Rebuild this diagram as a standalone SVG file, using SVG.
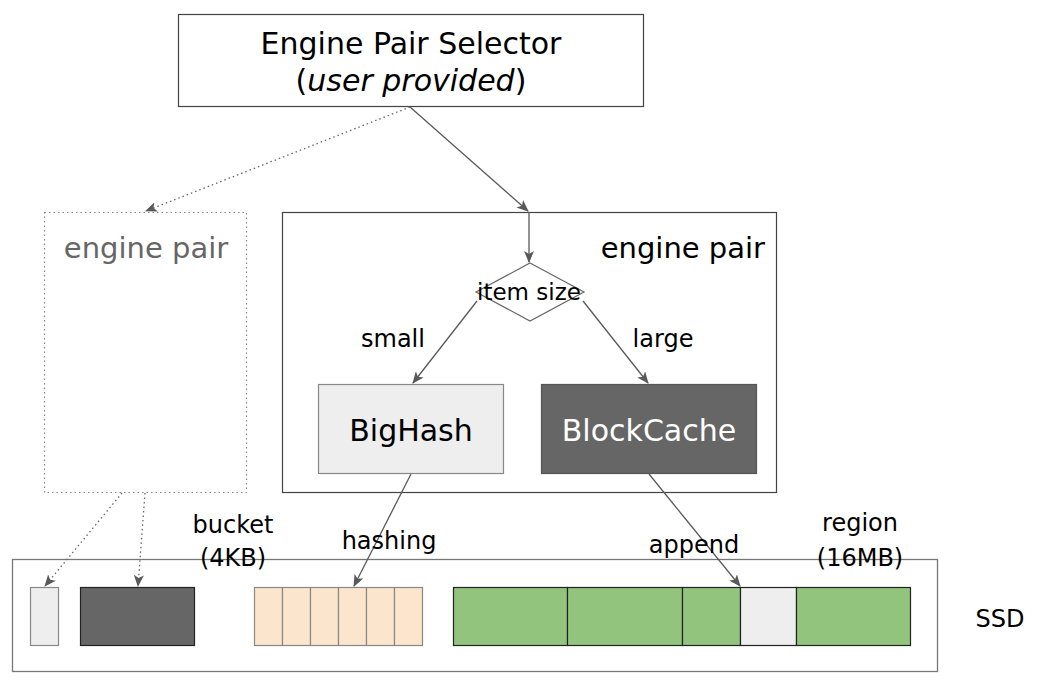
<svg xmlns="http://www.w3.org/2000/svg" width="1040" height="688" viewBox="0 0 1040 688">
<defs>
<style>
text{font-family:"DejaVu Sans","Open Sans",sans-serif;fill:#000;text-anchor:middle}
.ln{fill:none;stroke:#595959;stroke-width:1.3}
.dot{fill:none;stroke:#666;stroke-width:1.3;stroke-dasharray:1.5 3}
.box{fill:#fff;stroke:#444;stroke-width:1.2}
.lbl{font-size:24px}
.big{font-size:30px}
.cellp{fill:#fce5cd;stroke:#888;stroke-width:1.2}
.cellg{fill:#93c47d;stroke:#222;stroke-width:1.2}
</style>
<marker id="ah" viewBox="0 0 12 10" refX="11" refY="5" markerWidth="12" markerHeight="10" markerUnits="userSpaceOnUse" orient="auto">
<path d="M0,0 L12,5 L0,10 L3,5 z" fill="#595959"/>
</marker>
</defs>
<rect width="1040" height="688" fill="#fff"/>

<g id="selector">
<rect class="box" x="178.5" y="14.5" width="465" height="92"/>
<text x="411" y="54" class="big">Engine Pair Selector</text>
<text x="411" y="91" class="big">(<tspan font-style="italic">user provided</tspan>)</text>
</g>

<g id="engine-pair-ghost">
<rect x="44.5" y="212.5" width="202" height="280" fill="#fff" stroke="#888" stroke-width="1.2" stroke-dasharray="1.5 3"/>
<text x="146" y="258" font-size="29" style="fill:#666">engine pair</text>
</g>

<g id="engine-pair">
<rect class="box" x="282.5" y="212.5" width="494" height="280" stroke="#666"/>
<text x="765" y="258" font-size="29" style="text-anchor:end">engine pair</text>
</g>

<g id="item-size">
<polygon points="530,263 584,292 530,321 476,292" fill="#fff" stroke="#666" stroke-width="1.2"/>
<text x="529" y="300" font-size="23">item size</text>
</g>

<g id="bighash">
<rect x="318.5" y="384.5" width="185" height="89" fill="#eeeeee" stroke="#888" stroke-width="1.2"/>
<text x="411" y="441" class="big">BigHash</text>
</g>

<g id="blockcache">
<rect x="541.5" y="384.5" width="215" height="89" fill="#666666" stroke="#555" stroke-width="1.2"/>
<text x="649" y="441" class="big" style="fill:#fff">BlockCache</text>
</g>

<g id="ssd">
<rect x="12.5" y="559.5" width="925" height="112" fill="none" stroke="#777" stroke-width="1.3"/>
<text x="1000" y="627" class="lbl">SSD</text>
</g>

<g id="ghost-blocks">
<rect x="30.5" y="587.5" width="28" height="58" fill="#eeeeee" stroke="#888" stroke-width="1.2"/>
<rect x="80.5" y="587.5" width="114" height="58" fill="#666666" stroke="#222" stroke-width="1.2"/>
</g>

<g id="buckets">
<rect class="cellp" x="254.5" y="587.5" width="28" height="58"/>
<rect class="cellp" x="282.5" y="587.5" width="28" height="58"/>
<rect class="cellp" x="310.5" y="587.5" width="28" height="58"/>
<rect class="cellp" x="338.5" y="587.5" width="28" height="58"/>
<rect class="cellp" x="366.5" y="587.5" width="28" height="58"/>
<rect class="cellp" x="394.5" y="587.5" width="28" height="58"/>
</g>

<g id="regions">
<rect class="cellg" x="453.5" y="587.5" width="114" height="58"/>
<rect class="cellg" x="567.5" y="587.5" width="115" height="58"/>
<rect class="cellg" x="682.5" y="587.5" width="58" height="58"/>
<rect x="740.5" y="587.5" width="56" height="58" fill="#eeeeee" stroke="#222" stroke-width="1.2"/>
<rect class="cellg" x="796.5" y="587.5" width="114" height="58"/>
</g>

<g id="connectors">
<line class="ln" x1="410" y1="107" x2="528" y2="211" marker-end="url(#ah)"/>
<line class="dot" x1="410" y1="107" x2="146" y2="211" marker-end="url(#ah)"/>
<line class="ln" x1="529" y1="212" x2="529" y2="262" marker-end="url(#ah)"/>
<line class="ln" x1="477" y1="301" x2="413" y2="383" marker-end="url(#ah)"/>
<line class="ln" x1="583" y1="301" x2="648" y2="383" marker-end="url(#ah)"/>
<line class="dot" x1="122" y1="493" x2="45" y2="586" marker-end="url(#ah)"/>
<line class="dot" x1="145" y1="493" x2="138" y2="586" marker-end="url(#ah)"/>
<line class="ln" x1="411" y1="474" x2="354" y2="586" marker-end="url(#ah)"/>
<line class="ln" x1="649" y1="474" x2="740" y2="586" marker-end="url(#ah)"/>
</g>

<g id="labels">
<text x="393" y="347" class="lbl">small</text>
<text x="663" y="347" class="lbl">large</text>
<text x="233" y="533" class="lbl">bucket</text>
<text x="233" y="566" class="lbl">(4KB)</text>
<text x="389" y="549" class="lbl">hashing</text>
<text x="694" y="553" class="lbl">append</text>
<text x="860" y="531" class="lbl">region</text>
<text x="860" y="566" class="lbl">(16MB)</text>
</g>
</svg>
